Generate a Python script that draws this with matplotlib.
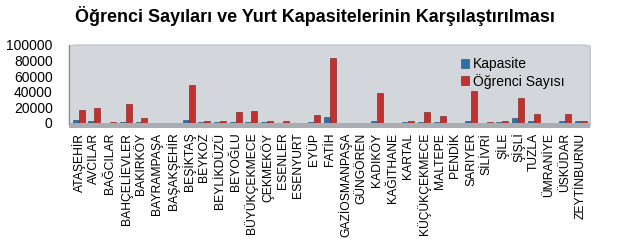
import numpy as np
import matplotlib.pyplot as plt
from matplotlib.patches import FancyBboxPatch

plt.rcParams['font.family'] = ['Liberation Sans', 'DejaVu Sans']

ilceler = ["ATAŞEHİR", "AVCILAR", "BAĞCILAR", "BAHÇELİEVLER", "BAKIRKÖY", "BAYRAMPAŞA",
           "BAŞAKŞEHİR", "BEŞİKTAŞ", "BEYKOZ", "BEYLİKDÜZÜ", "BEYOĞLU", "BÜYÜKÇEKMECE",
           "ÇEKMEKÖY", "ESENLER", "ESENYURT", "EYÜP", "FATİH", "GAZİOSMANPAŞA", "GÜNGÖREN",
           "KADIKÖY", "KAĞITHANE", "KARTAL", "KÜÇÜKÇEKMECE", "MALTEPE", "PENDİK", "SARIYER",
           "SİLİVRİ", "ŞİLE", "ŞİŞLİ", "TUZLA", "ÜMRANİYE", "ÜSKÜDAR", "ZEYTİNBURNU"]
kapasite = [4000, 3000, 500, 1000, 1500, 500, 500, 4000, 1000, 1000, 1000, 1000,
            1000, 500, 500, 1500, 8000, 500, 500, 2000, 500, 1000, 1500, 1500, 500, 3000,
            500, 1000, 6000, 3000, 500, 3000, 3000]
ogrenci = [17000, 19000, 1000, 25000, 7000, 500, 500, 49000, 3000, 3000, 14000, 16000,
           3000, 3000, 500, 10000, 83000, 500, 500, 38000, 500, 3000, 14000, 9000, 500, 41000,
           1500, 2000, 32000, 11000, 500, 12000, 2000]

fig = plt.figure(figsize=(6.3, 2.5), dpi=100)
ax = fig.add_axes([0.11, 0.508, 0.827, 0.312])

x = np.arange(len(ilceler))
w = 0.38
ax.bar(x - w / 2, kapasite, w, color='#2f6fa8', edgecolor='#1d4a75', linewidth=0.4,
       label='Kapasite', zorder=3)
ax.bar(x + w / 2, ogrenci, w, color='#c0312f', edgecolor='#7a1a18', linewidth=0.4,
       label='Öğrenci Sayısı', zorder=3)

ax.set_xlim(-0.6, len(ilceler) - 0.4)
ax.set_ylim(0, 100000)
ax.set_yticks(np.arange(0, 100001, 20000))
ax.set_facecolor('none')
bg = FancyBboxPatch((0, -0.05), 1, 1.05, boxstyle="round,pad=0,rounding_size=0.02",
                    transform=ax.transAxes, facecolor='#d3d7db', edgecolor='#c4c8cc',
                    zorder=0, clip_on=False)
ax.add_patch(bg)
floor = plt.Rectangle((0, -0.06), 1, 0.06, transform=ax.transAxes, facecolor='#a9adb2',
                      edgecolor='none', zorder=1, clip_on=False)
ax.add_patch(floor)

for s in ['top', 'right', 'bottom']:
    ax.spines[s].set_visible(False)
ax.spines['left'].set_color('#888888')
ax.tick_params(axis='y', labelsize=10, length=0, pad=12)
ax.tick_params(axis='x', length=0, pad=7)
ax.set_xticks(x)
ax.set_xticklabels(ilceler, rotation=90, fontsize=8.7)

ax.legend(loc='upper right', bbox_to_anchor=(0.975, 1.0), frameon=False, fontsize=10,
          handlelength=0.6, handleheight=0.6, handletextpad=0.3, labelspacing=0.15)

fig.suptitle('Öğrenci Sayıları ve Yurt Kapasitelerinin Karşılaştırılması', fontsize=13,
             fontweight='bold', y=0.975)

fig.savefig('out.png', dpi=100)
